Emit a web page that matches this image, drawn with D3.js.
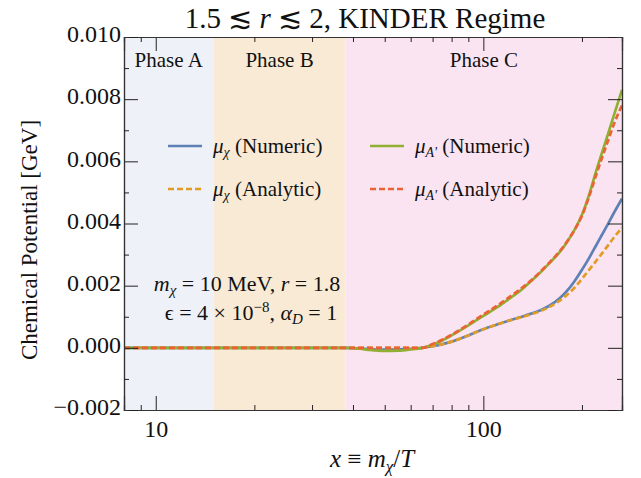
<!DOCTYPE html>
<html>
<head>
<meta charset="utf-8">
<script src="https://cdn.jsdelivr.net/npm/d3@7"></script>
<style>
  body { margin: 0; background: #fff; }
  svg text { font-family: "Liberation Serif", "DejaVu Serif", serif; fill: #111; }
</style>
</head>
<body>
<svg id="chart" width="641" height="478"></svg>
<script>
// x = m_chi / T sample points
const xs = [8, 10, 15, 20, 30, 38, 42, 45, 50, 55, 60, 65, 70, 80, 90, 100, 110, 120, 130, 140, 150, 160, 170, 180, 190, 200, 210, 220, 230, 240, 250, 265];

// chemical potentials [GeV]
const muChiNumeric = [0, 0, 0, 0, 0, 0, -0.00002, -0.00004, -0.00006, -0.00005, -0.00003, 0, 0.00005, 0.0002, 0.0004, 0.0006, 0.00075, 0.00088, 0.00099, 0.0011, 0.00122, 0.00137, 0.00157, 0.00183, 0.00215, 0.00251, 0.00288, 0.00326, 0.00363, 0.00398, 0.00433, 0.0048];
const muChiAnalytic = [0, 0, 0, 0, 0, 0, 0, 0, 0, 0, 0, 0, 0.00005, 0.0002, 0.0004, 0.0006, 0.00075, 0.00088, 0.00098, 0.00108, 0.00119, 0.00133, 0.0015, 0.0017, 0.00194, 0.00222, 0.0025, 0.00277, 0.00303, 0.00329, 0.00354, 0.00387];
const muANumeric = [0, 0, 0, 0, 0, 0, -0.00003, -0.00007, -0.0001, -0.00009, -0.00005, 0, 0.0001, 0.0004, 0.00072, 0.00103, 0.0013, 0.00158, 0.00185, 0.00215, 0.00245, 0.00275, 0.00305, 0.0034, 0.0038, 0.00428, 0.0049, 0.00562, 0.00626, 0.00687, 0.00746, 0.0083];
const muAAnalytic = [0, 0, 0, 0, 0, 0, 0, 0, 0, 0, 0, 0, 0.00012, 0.00042, 0.00075, 0.00107, 0.00135, 0.00163, 0.0019, 0.00217, 0.00247, 0.00277, 0.00307, 0.00342, 0.0038, 0.00425, 0.00485, 0.0055, 0.0061, 0.00665, 0.00718, 0.0078];

// phase regions
const phaseNames = ["Phase A", "Phase B", "Phase C"];
const phaseEdges = [8, 15, 38, 265];
const phaseColors = ["#eef1f7", "#f9ead5", "#fbe4f1"];

const yTicks = [-0.002, 0, 0.002, 0.004, 0.006, 0.008, 0.010];
const yMinor = [-0.001, 0.001, 0.003, 0.005, 0.007, 0.009];
const xMajor = [10, 100];
const xMinor = [9, 20, 30, 40, 50, 60, 70, 80, 90, 200];

const svg = d3.select("#chart");
const margin = {left: 124, right: 19, top: 37, bottom: 68};
const W = 641, H = 478;

const x = d3.scaleLog().domain([8, 265]).range([margin.left, W - margin.right]);
const y = d3.scaleLinear().domain([-0.002, 0.010]).range([H - margin.bottom, margin.top]);

// backgrounds
const phases = phaseNames.map((n, i) => ({name: n, x0: phaseEdges[i], x1: phaseEdges[i + 1], color: phaseColors[i]}));
svg.selectAll("rect.phase").data(phases).join("rect")
  .attr("x", d => x(d.x0)).attr("width", d => x(d.x1) - x(d.x0))
  .attr("y", y(0.010)).attr("height", y(-0.002) - y(0.010))
  .attr("fill", d => d.color);

svg.selectAll("text.phase").data(phases).join("text")
  .attr("x", d => x(Math.sqrt(d.x0 * d.x1)))
  .attr("y", 67).attr("text-anchor", "middle").attr("font-size", 21)
  .text(d => d.name);

// curves
const series = [
  {v: muChiNumeric, color: "#5E81B5", dash: null},
  {v: muANumeric, color: "#8FB032", dash: null},
  {v: muChiAnalytic, color: "#E19C24", dash: "6,3"},
  {v: muAAnalytic, color: "#EB6235", dash: "6,3"}
];
const line = d3.line().x(d => x(d[0])).y(d => y(d[1])).curve(d3.curveMonotoneX);
svg.selectAll("path.curve").data(series).join("path")
  .attr("d", s => line(xs.map((xv, i) => [xv, s.v[i]])))
  .attr("fill", "none").attr("stroke", s => s.color)
  .attr("stroke-width", 2.7)
  .attr("stroke-dasharray", s => s.dash);

// frame with inward ticks
const frameColor = "#333";
const axB = svg.append("g").attr("transform", `translate(0,${y(-0.002)})`)
  .call(d3.axisBottom(x).tickValues(xMajor).tickSize(-14).tickFormat(d3.format("d")));
axB.append("g").call(d3.axisBottom(x).tickValues(xMinor).tickSize(-5).tickFormat(""));
const axT = svg.append("g").attr("transform", `translate(0,${y(0.010)})`)
  .call(d3.axisTop(x).tickValues(xMajor).tickSize(-14).tickFormat(""));
axT.append("g").call(d3.axisTop(x).tickValues(xMinor).tickSize(-5).tickFormat(""));
const axL = svg.append("g").attr("transform", `translate(${x(8)},0)`)
  .call(d3.axisLeft(y).tickValues(yTicks).tickSize(-14).tickFormat(d => d3.format(".3f")(d).replace("-", "\u2212")));
axL.append("g").call(d3.axisLeft(y).tickValues(yMinor).tickSize(-5).tickFormat(""));
const axR = svg.append("g").attr("transform", `translate(${x(265)},0)`)
  .call(d3.axisRight(y).tickValues(yTicks).tickSize(-14).tickFormat(""));
axR.append("g").call(d3.axisRight(y).tickValues(yMinor).tickSize(-5).tickFormat(""));

svg.selectAll(".domain").attr("stroke", frameColor).attr("stroke-width", 1.2);
svg.selectAll(".tick line").attr("stroke", "#222").attr("stroke-width", 1);
svg.selectAll(".tick text").attr("font-family", "Liberation Serif").attr("font-size", 24).attr("fill", "#111");
axB.selectAll(".tick text").attr("dy", "1.0em");
axL.selectAll(".tick text").attr("x", -3).attr("dy", "0.2em");

// title
const ttl = svg.append("text").attr("x", 365).attr("y", 28).attr("text-anchor", "middle").attr("font-size", 29);
ttl.append("tspan").text("1.5 \u2272 ");
ttl.append("tspan").attr("font-style", "italic").text("r");
ttl.append("tspan").text(" \u2272 2, KINDER Regime");

// axis labels
const xl = svg.append("text").attr("x", 372).attr("y", 467).attr("text-anchor", "middle").attr("font-size", 25);
xl.append("tspan").attr("font-style", "italic").text("x");
xl.append("tspan").text(" \u2261 ");
xl.append("tspan").attr("font-style", "italic").text("m");
xl.append("tspan").attr("font-style", "italic").attr("font-size", 17).attr("dy", 5).text("\u03C7");
xl.append("tspan").attr("dy", -5).text("/");
xl.append("tspan").attr("font-style", "italic").text("T");

svg.append("text").attr("transform", "translate(37,240) rotate(-90)")
  .attr("text-anchor", "middle").attr("font-size", 23).text("Chemical Potential [GeV]");

// legend
const legend = [
  {sub: "\u03C7", label: " (Numeric)", color: "#5E81B5", dash: null, lx: 168, ly: 146},
  {sub: "A'", label: " (Numeric)", color: "#8FB032", dash: null, lx: 370, ly: 146},
  {sub: "\u03C7", label: " (Analytic)", color: "#E19C24", dash: "6,3", lx: 168, ly: 189},
  {sub: "A'", label: " (Analytic)", color: "#EB6235", dash: "6,3", lx: 370, ly: 189}
];
legend.forEach(l => {
  svg.append("line").attr("x1", l.lx).attr("x2", l.lx + 34).attr("y1", l.ly).attr("y2", l.ly)
    .attr("stroke", l.color).attr("stroke-width", 2.7).attr("stroke-dasharray", l.dash);
  const t = svg.append("text").attr("x", l.lx + 45).attr("y", l.ly + 7).attr("font-size", 21);
  t.append("tspan").attr("font-style", "italic").text("\u03BC");
  t.append("tspan").attr("font-style", "italic").attr("font-size", 14).attr("dy", 4).text(l.sub);
  t.append("tspan").attr("dy", -4).text(l.label);
});

// parameter annotation
const a1 = svg.append("text").attr("x", 247).attr("y", 291).attr("text-anchor", "middle").attr("font-size", 22);
a1.append("tspan").attr("font-style", "italic").text("m");
a1.append("tspan").attr("font-style", "italic").attr("font-size", 15).attr("dy", 4).text("\u03C7");
a1.append("tspan").attr("dy", -4).text(" = 10 MeV, ");
a1.append("tspan").attr("font-style", "italic").text("r");
a1.append("tspan").text(" = 1.8");

const a2 = svg.append("text").attr("x", 251).attr("y", 320).attr("text-anchor", "middle").attr("font-size", 22);
a2.append("tspan").text("\u03F5 = 4 \u00D7 10");
a2.append("tspan").attr("font-size", 15).attr("dy", -8).text("\u22128");
a2.append("tspan").attr("dy", 8).text(", ");
a2.append("tspan").attr("font-style", "italic").text("\u03B1");
a2.append("tspan").attr("font-style", "italic").attr("font-size", 15).attr("dy", 4).text("D");
a2.append("tspan").attr("dy", -4).text(" = 1");
</script>
</body>
</html>
